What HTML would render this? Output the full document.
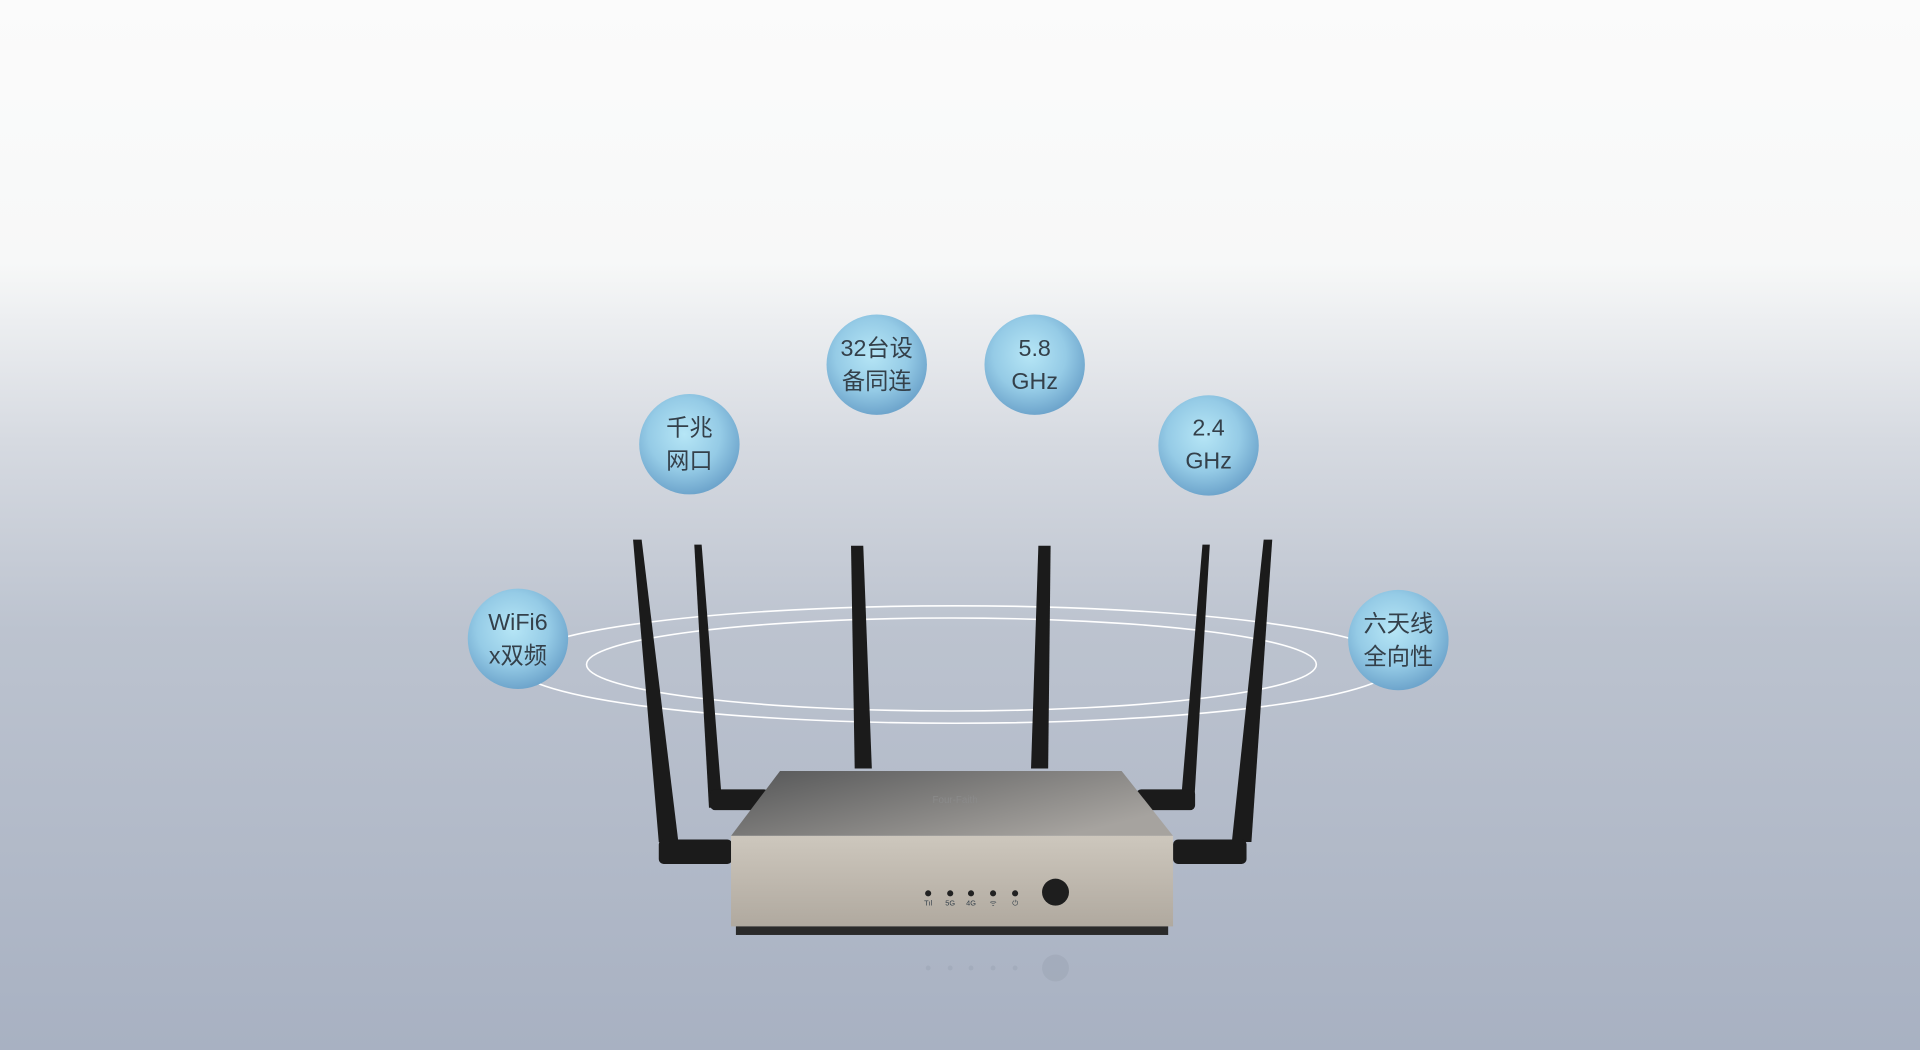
<!DOCTYPE html>
<html><head><meta charset="utf-8"><style>
html,body{margin:0;padding:0;width:1920px;height:1050px;overflow:hidden}
svg{display:block}
text{font-family:"Liberation Sans","Noto Sans CJK SC",sans-serif;fill:#34404a}
</style></head><body>
<svg width="1920" height="1050" viewBox="0 0 1568 858" preserveAspectRatio="none">
<defs>
<linearGradient id="bg" x1="0" y1="0" x2="0" y2="1">
<stop offset="0" stop-color="#fbfbfb"/>
<stop offset="0.25" stop-color="#f7f8f8"/>
<stop offset="0.42" stop-color="#d6dae1"/>
<stop offset="0.6" stop-color="#bcc3cf"/>
<stop offset="1" stop-color="#a8b1c2"/>
</linearGradient>
<radialGradient id="bub" cx="0.45" cy="0.4" r="0.6">
<stop offset="0" stop-color="#b6e6f6"/>
<stop offset="0.6" stop-color="#95cbe6"/>
<stop offset="1" stop-color="#6ea5cc"/>
</radialGradient>
<linearGradient id="top" x1="0" y1="0" x2="1" y2="0.6">
<stop offset="0" stop-color="#555657"/>
<stop offset="1" stop-color="#a6a39f"/>
</linearGradient>
<linearGradient id="front" x1="0" y1="0" x2="0" y2="1">
<stop offset="0" stop-color="#cdc7bd"/>
<stop offset="1" stop-color="#b0a99f"/>
</linearGradient>
</defs>
<rect width="1568" height="858" fill="url(#bg)"/>
<ellipse cx="780" cy="543" rx="360" ry="48" fill="none" stroke="#fff" stroke-width="1.3"/>
<ellipse cx="777" cy="543" rx="298" ry="38" fill="none" stroke="#fff" stroke-width="1.3"/>
<g fill="#1b1b1b">
<polygon points="517,441 524,441 554,688 538,688"/>
<polygon points="567,445 573,445 590,660 579,660"/>
<polygon points="695,446 705,446 712,628 698,628"/>
<polygon points="848,446 858,446 856,628 842,628"/>
<polygon points="982,445 988,445 975,660 964,660"/>
<polygon points="1032,441 1039,441 1022,688 1006,688"/>
<rect x="538" y="686" width="60" height="20" rx="4"/>
<rect x="580" y="645" width="48" height="17" rx="4"/>
<rect x="928" y="645" width="48" height="17" rx="4"/>
<rect x="958" y="686" width="60" height="20" rx="4"/>
</g>
<polygon points="637,630 916,630 958,683 597,683" fill="url(#top)"/>
<text x="780" y="656" font-size="8" text-anchor="middle" style="fill:#8a8a8a">Four-Faith</text>
<rect x="597" y="683" width="361" height="74" fill="url(#front)"/>
<rect x="601" y="757" width="353" height="7" fill="#2a2a2a"/>
<g fill="#222"><circle cx="758" cy="730" r="2.5"/><circle cx="776" cy="730" r="2.5"/><circle cx="793" cy="730" r="2.5"/><circle cx="811" cy="730" r="2.5"/><circle cx="829" cy="730" r="2.5"/></g>
<g font-size="6" text-anchor="middle"><text x="758" y="740">Tıl</text><text x="776" y="740">5G</text><text x="793" y="740">4G</text><text x="811" y="740">ᯤ</text><text x="829" y="740">⏻</text></g>
<circle cx="862" cy="729" r="11" fill="#1e1e1e"/>
<g fill="#9aa3b2" opacity="0.45"><circle cx="758" cy="791" r="2"/><circle cx="776" cy="791" r="2"/><circle cx="793" cy="791" r="2"/><circle cx="811" cy="791" r="2"/><circle cx="829" cy="791" r="2"/><circle cx="862" cy="791" r="11"/></g>
<g>
<circle cx="563" cy="363" r="41" fill="url(#bub)"/>
<circle cx="716" cy="298" r="41" fill="url(#bub)"/>
<circle cx="845" cy="298" r="41" fill="url(#bub)"/>
<circle cx="987" cy="364" r="41" fill="url(#bub)"/>
<circle cx="423" cy="522" r="41" fill="url(#bub)"/>
<circle cx="1142" cy="523" r="41" fill="url(#bub)"/>
</g>
<g font-size="19" text-anchor="middle">
<text x="563" y="356">千兆</text><text x="563" y="383">网口</text>
<text x="716" y="291">32台设</text><text x="716" y="318">备同连</text>
<text x="845" y="291">5.8</text><text x="845" y="318">GHz</text>
<text x="987" y="356">2.4</text><text x="987" y="383">GHz</text>
<text x="423" y="515">WiFi6</text><text x="423" y="542">x双频</text>
<text x="1142" y="516">六天线</text><text x="1142" y="543">全向性</text>
</g>
</svg>
</body></html>
